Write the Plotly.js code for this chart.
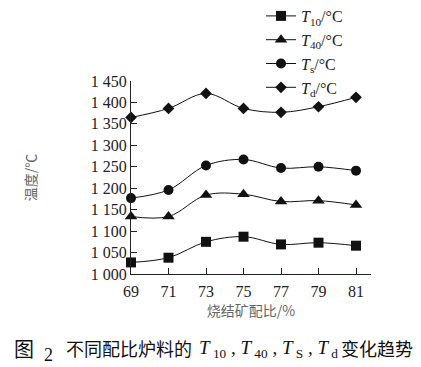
<!DOCTYPE html>
<html>
<head>
<meta charset="utf-8">
<script src="https://cdn.plot.ly/plotly-3.0.1.min.js"></script>
<style>html,body{margin:0;padding:0;background:#fff;}#chart{width:421px;height:367px;}</style>
</head>
<body>
<div id="chart"></div>
<script>
const ratios = [69, 71, 73, 75, 77, 79, 81];
const T10 = [1027, 1038, 1075, 1087, 1069, 1073, 1066];
const T40 = [1134, 1134, 1184, 1186, 1169, 1171, 1161];
const Ts  = [1177, 1196, 1253, 1267, 1247, 1250, 1241];
const Td  = [1365, 1386, 1421, 1386, 1377, 1390, 1412];
const seriesNames = ['<i>T</i><sub>10</sub>/°C', '<i>T</i><sub>40</sub>/°C', '<i>T</i><sub>s</sub>/°C', '<i>T</i><sub>d</sub>/°C'];
const yTickVals = [1000, 1050, 1100, 1150, 1200, 1250, 1300, 1350, 1400, 1450];
const yTickText = ['1 000', '1 050', '1 100', '1 150', '1 200', '1 250', '1 300', '1 350', '1 400', '1 450'];
const xTickVals = [69, 71, 73, 75, 77, 79, 81];

const serif = '"Liberation Serif", "Times New Roman", serif';
const cjk = '"Noto Sans CJK SC", sans-serif';
const NB = '\u00A0';

// pixel helpers for layout placement (plot area: x 131..371, y 81..274)
const L = 131, W = 240, B = 274, H = 193;
const px = v => (v - L) / W;
const py = v => (B - v) / H;

const data = [
  {y: T10, sym: 'square', size: 10},
  {y: T40, sym: 'triangle-up', size: 11},
  {y: Ts, sym: 'circle', size: 10},
  {y: Td, sym: 'diamond', size: 9}
].map((s, i) => ({
  x: ratios, y: s.y, name: seriesNames[i], type: 'scatter', mode: 'lines+markers',
  line: {color: '#111', width: 1, shape: 'spline', smoothing: 1},
  marker: {symbol: s.sym, size: s.size, color: '#111'},
  cliponaxis: false
}));

const capT = '<i>T</i><sub>' + NB + '10</sub>' + NB + ',' + NB + '<i>T</i><sub>' + NB + '40</sub>' + NB + ',' + NB +
             '<i>T</i><sub>' + NB + 'S</sub>' + NB + ',' + NB + '<i>T</i><sub>' + NB + 'd</sub>';

const layout = {
  width: 421, height: 367,
  margin: {l: L, r: 421 - L - W, t: B - H, b: 367 - B, autoexpand: false},
  paper_bgcolor: '#fff', plot_bgcolor: '#fff',
  font: {family: serif, color: '#222', size: 16},
  showlegend: true,
  legend: {x: px(261), y: py(-1), xanchor: 'left', yanchor: 'top', bgcolor: 'rgba(0,0,0,0)',
           font: {family: serif, size: 16, color: '#222'}, tracegroupgap: 0},
  xaxis: {
    range: [69, 81.8], tickvals: xTickVals, ticks: 'inside', ticklen: 6, tickcolor: '#222',
    showline: true, linecolor: '#222', linewidth: 1, showgrid: false, zeroline: false,
    ticklabelstandoff: 3,
    tickfont: {family: serif, size: 16, color: '#222'},
    title: {text: '烧结矿配比/%', font: {family: cjk, size: 14, color: '#666'}, standoff: 6}
  },
  yaxis: {
    range: [1000, 1450], tickvals: yTickVals, ticktext: yTickText, ticks: 'inside', ticklen: 6, tickcolor: '#222',
    showline: true, linecolor: '#222', linewidth: 1, showgrid: false, zeroline: false,
    tickfont: {family: serif, size: 16, color: '#222'},
    title: {text: '温度/℃', font: {family: cjk, size: 14, color: '#666'}, standoff: 50}
  },
  annotations: [
    {xref: 'paper', yref: 'paper', x: px(12), y: py(348), xanchor: 'left', yanchor: 'middle', showarrow: false,
     text: '图', font: {family: cjk, size: 20, color: '#111'}},
    {xref: 'paper', yref: 'paper', x: px(42), y: py(355), xanchor: 'left', yanchor: 'middle', showarrow: false,
     text: '2', font: {family: serif, size: 18, color: '#111'}},
    {xref: 'paper', yref: 'paper', x: px(64), y: py(348), xanchor: 'left', yanchor: 'middle', showarrow: false,
     text: '不同配比炉料的', font: {family: cjk, size: 18, color: '#111'}},
    {xref: 'paper', yref: 'paper', x: px(197), y: py(349), xanchor: 'left', yanchor: 'middle', showarrow: false,
     text: capT, font: {family: serif, size: 19, color: '#111'}},
    {xref: 'paper', yref: 'paper', x: px(339), y: py(348), xanchor: 'left', yanchor: 'middle', showarrow: false,
     text: '变化趋势', font: {family: cjk, size: 18, color: '#111'}}
  ]
};

Plotly.newPlot('chart', data, layout, {displayModeBar: false, staticPlot: true});
</script>
</body>
</html>
